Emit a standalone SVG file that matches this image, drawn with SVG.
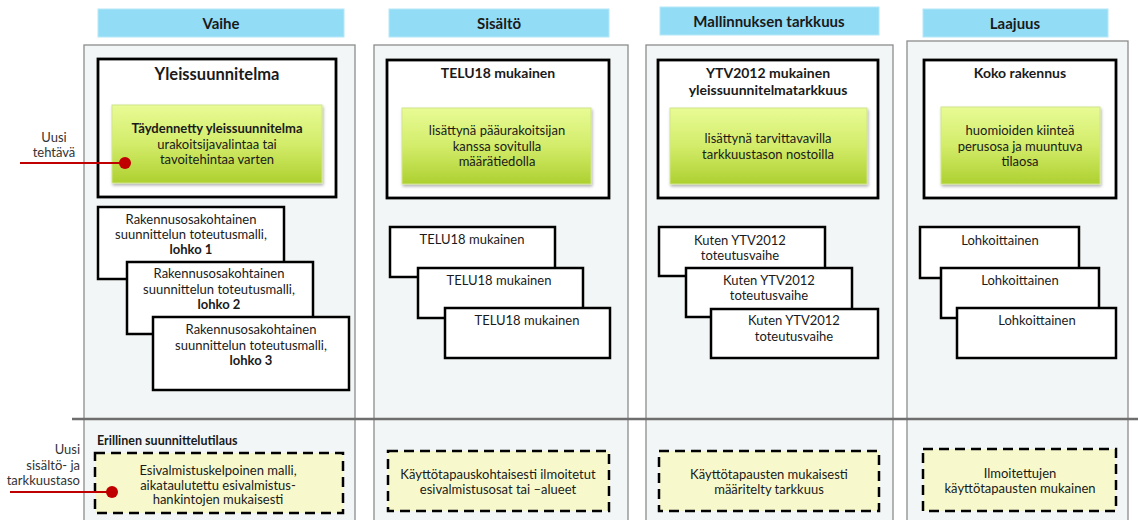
<svg xmlns="http://www.w3.org/2000/svg" width="1138" height="520" viewBox="0 0 1138 520">
<defs>
<linearGradient id="g" x1="0" y1="0" x2="0" y2="1">
<stop offset="0" stop-color="#e8fb95"/>
<stop offset="0.5" stop-color="#d3ec6a"/>
<stop offset="1" stop-color="#aed030"/>
</linearGradient>
<filter id="sh" x="-10%" y="-10%" width="120%" height="130%">
<feDropShadow dx="1" dy="2" stdDeviation="1.5" flood-color="#000" flood-opacity="0.3"/>
</filter>
</defs>
<style>
text{font-family:Lato,"Open Sans","Liberation Sans",sans-serif;fill:#1a1a1a;text-anchor:middle;font-size:13px}
.b{font-weight:bold}
.t{font-weight:bold;font-size:14px}
.hd{fill:#92dcf6;stroke:#b6e8f8;stroke-width:1}
.hdt{font-weight:bold;font-size:15px}
.col{fill:#f3f6f6;stroke:#8c8c8c;stroke-width:1.3}
.fr{fill:#fff;stroke:#000;stroke-width:2.8}
.gr{fill:url(#g);stroke:#cfe58a;stroke-width:1;filter:url(#sh)}
.wb{fill:#fff;stroke:#000;stroke-width:2.5}
.db{fill:#f7f9cc;stroke:#000;stroke-width:2.5;stroke-dasharray:10,6}
.red{stroke:#c00000;stroke-width:2.2;fill:none}
.dot{fill:#c00000}
.lbl{font-size:13px;fill:#333}
</style>

<g id="columns">
<rect class="col" x="84" y="45" width="271" height="480"/>
<rect class="col" x="374" y="45" width="254" height="480"/>
<rect class="col" x="646" y="45" width="247" height="480"/>
<rect class="col" x="907" y="41" width="221" height="484"/>
</g>

<g id="headers">
<g id="h-vaihe"><rect class="hd" x="98" y="9" width="246" height="28"/><text class="hdt" x="221" y="29">Vaihe</text></g>
<g id="h-sisalto"><rect class="hd" x="389" y="9" width="220" height="28"/><text class="hdt" x="499" y="29">Sisältö</text></g>
<g id="h-tarkkuus"><rect class="hd" x="660" y="7" width="219" height="28"/><text class="hdt" x="769" y="27">Mallinnuksen tarkkuus</text></g>
<g id="h-laajuus"><rect class="hd" x="923" y="9" width="185" height="28"/><text class="hdt" x="1015" y="29">Laajuus</text></g>
</g>

<g id="divider"><line x1="72" y1="419" x2="1138" y2="419" stroke="#6e6e6e" stroke-width="2.5"/></g>

<g id="n-yleis">
<rect class="fr" x="98" y="59" width="238" height="138"/>
<text class="b" x="217" y="80" style="font-size:16.5px">Yleissuunnitelma</text>
<rect class="gr" x="112" y="105" width="210" height="78"/>
<text class="b" x="217" y="133">Täydennetty yleissuunnitelma</text>
<text x="217" y="149">urakoitsijavalintaa tai</text>
<text x="217" y="164">tavoitehintaa varten</text>
</g>

<g id="n-telu">
<rect class="fr" x="387" y="60" width="222" height="138"/>
<text class="t" x="498" y="78">TELU18 mukainen</text>
<rect class="gr" x="402" y="108" width="189" height="76"/>
<text x="497" y="135">lisättynä pääurakoitsijan</text>
<text x="497" y="151">kanssa sovitulla</text>
<text x="497" y="166">määrätiedolla</text>
</g>

<g id="n-ytv">
<rect class="fr" x="658" y="60" width="220" height="138"/>
<text class="t" x="768" y="78">YTV2012 mukainen</text>
<text class="t" x="768" y="95">yleissuunnitelmatarkkuus</text>
<rect class="gr" x="670" y="108" width="197" height="76"/>
<text x="768" y="143">lisättynä tarvittavavilla</text>
<text x="768" y="159">tarkkuustason nostoilla</text>
</g>

<g id="n-koko">
<rect class="fr" x="924" y="60" width="192" height="138"/>
<text class="t" x="1020" y="78">Koko rakennus</text>
<rect class="gr" x="941" y="107" width="159" height="77"/>
<text x="1020" y="135">huomioiden kiinteä</text>
<text x="1020" y="151">perusosa ja muuntuva</text>
<text x="1020" y="166">tilaosa</text>
</g>

<g id="n-lohko1">
<rect class="wb" x="98" y="207" width="186" height="72"/>
<text x="191" y="224">Rakennusosakohtainen</text>
<text x="191" y="239">suunnittelun toteutusmalli,</text>
<text class="b" x="191" y="254">lohko 1</text>
</g>
<g id="n-lohko2">
<rect class="wb" x="127" y="262" width="186" height="72"/>
<text x="219" y="278">Rakennusosakohtainen</text>
<text x="219" y="294">suunnittelun toteutusmalli,</text>
<text class="b" x="219" y="309">lohko 2</text>
</g>
<g id="n-lohko3">
<rect class="wb" x="153" y="317" width="196" height="73"/>
<text x="251" y="334">Rakennusosakohtainen</text>
<text x="251" y="350">suunnittelun toteutusmalli,</text>
<text class="b" x="251" y="365">lohko 3</text>
</g>

<g id="n-telu1"><rect class="wb" x="390" y="227" width="165" height="50"/><text x="472" y="244">TELU18 mukainen</text></g>
<g id="n-telu2"><rect class="wb" x="418" y="268" width="165" height="50"/><text x="499" y="285">TELU18 mukainen</text></g>
<g id="n-telu3"><rect class="wb" x="445" y="308" width="165" height="50"/><text x="527" y="325">TELU18 mukainen</text></g>

<g id="n-kuten1"><rect class="wb" x="659" y="227" width="166" height="49"/><text x="740" y="245">Kuten YTV2012</text><text x="740" y="260">toteutusvaihe</text></g>
<g id="n-kuten2"><rect class="wb" x="686" y="268" width="166" height="49"/><text x="769" y="285">Kuten YTV2012</text><text x="769" y="300">toteutusvaihe</text></g>
<g id="n-kuten3"><rect class="wb" x="711" y="309" width="167" height="49"/><text x="794" y="325">Kuten YTV2012</text><text x="794" y="341">toteutusvaihe</text></g>

<g id="n-lohk1"><rect class="wb" x="920" y="227" width="159" height="51"/><text x="1000" y="245">Lohkoittainen</text></g>
<g id="n-lohk2"><rect class="wb" x="941" y="268" width="158" height="50"/><text x="1020" y="285">Lohkoittainen</text></g>
<g id="n-lohk3"><rect class="wb" x="957" y="308" width="159" height="50"/><text x="1037" y="325">Lohkoittainen</text></g>

<g id="n-erillinen">
<text class="b" x="97" y="445" style="text-anchor:start;font-size:12.5px">Erillinen suunnittelutilaus</text>
<rect class="db" x="95" y="453" width="248" height="60"/>
<text x="218" y="475">Esivalmistuskelpoinen malli,</text>
<text x="218" y="490">aikataulutettu esivalmistus-</text>
<text x="218" y="504">hankintojen mukaisesti</text>
</g>
<g id="n-kaytto1">
<rect class="db" x="388" y="451" width="221" height="60"/>
<text x="498" y="479">Käyttötapauskohtaisesti ilmoitetut</text>
<text x="498" y="494">esivalmistusosat tai –alueet</text>
</g>
<g id="n-kaytto2">
<rect class="db" x="659" y="451" width="220" height="60"/>
<text x="769" y="479">Käyttötapausten mukaisesti</text>
<text x="769" y="494">määritelty tarkkuus</text>
</g>
<g id="n-kaytto3">
<rect class="db" x="923" y="449" width="193" height="62"/>
<text x="1020" y="478">Ilmoitettujen</text>
<text x="1020" y="493">käyttötapausten mukainen</text>
</g>

<g id="n-uusi-tehtava">
<text class="lbl" x="54" y="142">Uusi</text>
<text class="lbl" x="54" y="157">tehtävä</text>
</g>
<g id="n-uusi-taso">
<text class="lbl" x="80" y="454" style="text-anchor:end">Uusi</text>
<text class="lbl" x="80" y="470" style="text-anchor:end">sisältö- ja</text>
<text class="lbl" x="80" y="485" style="text-anchor:end">tarkkuustaso</text>
</g>

<g id="connectors">
<line class="red" x1="20" y1="163" x2="125" y2="163"/>
<circle class="dot" cx="125" cy="163" r="6"/>
<line class="red" x1="10" y1="492" x2="112" y2="492"/>
<circle class="dot" cx="112" cy="492" r="6"/>
</g>
</svg>
